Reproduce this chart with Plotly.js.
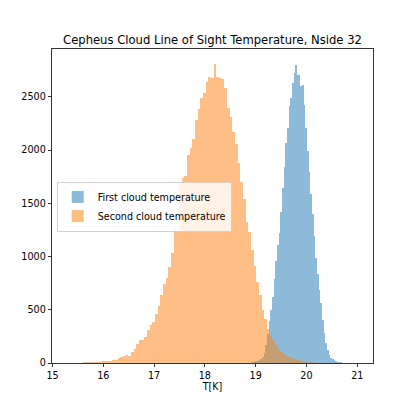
<!DOCTYPE html>
<html><head><meta charset="utf-8">
<script src="https://cdn.plot.ly/plotly-3.0.1.min.js"></script>
<style>html,body{margin:0;padding:0;background:#fff}#chart{width:415px;height:415px}</style>
</head><body><div id="chart"></div>
<script>
// First cloud temperature histogram (bin start, bin width, counts per bin)
const firstBinStart = 18.898;
const firstBinWidth = 0.0328;
const firstCounts = [4, 8, 12, 16, 22, 30, 40, 55, 90, 170,
  270, 390, 500, 620, 790, 960, 1105, 1220, 1420, 1640,
  1840, 2068, 2209, 2413, 2485, 2632, 2726, 2798, 2704, 2704,
  2600, 2615, 2420, 2210, 1990, 1790, 1590, 1400, 1190, 990,
  840, 690, 560, 400, 280, 190, 120, 75, 50, 35,
  25, 18, 13, 9, 6, 4, 2, 1];

// Second cloud temperature histogram
const secondBinStart = 15.34;
const secondBinWidth = 0.0525;
const secondCounts = [1, 2, 3, 3, 4, 5, 6, 8, 9, 10,
  12, 13, 15, 18, 20, 22, 25, 30, 50, 55,
  63, 78, 68, 103, 135, 180, 212, 220, 245, 310,
  355, 385, 465, 535, 640, 740, 800, 900, 1030, 1255,
  1240, 1700, 1740, 1760, 1955, 2018, 2106, 2284, 2388, 2494,
  2535, 2644, 2691, 2682, 2808, 2691, 2682, 2670, 2588, 2394,
  2315, 2168, 2059, 1877, 1698, 1542, 1322, 1234, 1062, 915,
  758, 639, 500, 410, 320, 265, 213, 166, 135, 103,
  88, 70, 56, 45, 35, 28, 22, 17, 13, 10,
  7, 5, 4, 3, 2, 2, 1, 1, 1, 1];

const seriesNames = ['First cloud temperature', 'Second cloud temperature'];
const xTicks = [15, 16, 17, 18, 19, 20, 21];
const yTicks = [0, 500, 1000, 1500, 2000, 2500];

function centers(start, width, counts) {
  return counts.map((_, i) => start + width * (i + 0.5));
}

const FONT = 'DejaVu Sans, Liberation Sans, sans-serif';

const traces = [
  {
    type: 'bar', name: seriesNames[0],
    x: centers(firstBinStart, firstBinWidth, firstCounts), y: firstCounts,
    width: firstBinWidth,
    marker: {color: '#1f77b4', line: {width: 0}}, opacity: 0.5,
    hoverinfo: 'skip'
  },
  {
    type: 'bar', name: seriesNames[1],
    x: centers(secondBinStart, secondBinWidth, secondCounts), y: secondCounts,
    width: secondBinWidth,
    marker: {color: '#ff7f0e', line: {width: 0}}, opacity: 0.5,
    hoverinfo: 'skip'
  }
];

const axisCommon = {
  ticks: 'outside', ticklen: 3.5, tickwidth: 0.8, tickcolor: '#000',
  showline: true, linecolor: '#000', linewidth: 0.8, mirror: true,
  showgrid: false, zeroline: false,
  tickfont: {family: FONT, size: 9.6, color: '#000'}
};

const layout = {
  width: 415, height: 415,
  margin: {l: 52, r: 42, t: 49, b: 52, pad: 0},
  paper_bgcolor: '#fff', plot_bgcolor: '#fff',
  barmode: 'overlay', bargap: 0,
  font: {family: FONT, color: '#000'},
  title: {
    text: 'Cepheus Cloud Line of Sight Temperature, Nside 32',
    font: {family: FONT, size: 11.6, color: '#000'},
    xref: 'container', x: 0.512, xanchor: 'center',
    yref: 'container', y: 1 - 40 / 415, yanchor: 'middle'
  },
  xaxis: Object.assign({}, axisCommon, {
    range: [14.99, 21.31], tickvals: xTicks, ticktext: xTicks.map(String),
    title: {text: 'T[K]', font: {family: FONT, size: 9.6, color: '#000'}, standoff: 3}
  }),
  yaxis: Object.assign({}, axisCommon, {
    range: [0, 2950], tickvals: yTicks, ticktext: yTicks.map(String)
  }),
  legend: {
    x: 0.0146, y: 0.578, xanchor: 'left', yanchor: 'top',
    bgcolor: 'rgba(255,255,255,0.8)', bordercolor: '#d0d0d0', borderwidth: 1,
    font: {family: FONT, size: 9.6, color: '#000'},
    traceorder: 'normal'
  },
  showlegend: true
};

Plotly.newPlot('chart', traces, layout, {displayModeBar: false, staticPlot: true});
</script>
</body></html>
